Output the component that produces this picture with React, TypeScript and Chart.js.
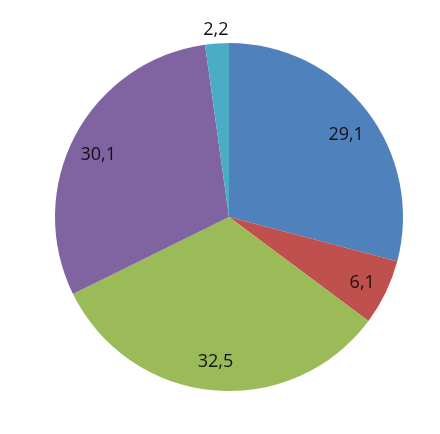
import { useEffect, useRef } from "react";
import { Chart, registerables, Plugin } from "chart.js";

Chart.register(...registerables);

const categories = ["A", "B", "C", "D", "E"];
const values = [29.1, 6.1, 32.5, 30.1, 2.2];
const colors = ["#4F81BD", "#C0504D", "#9BBB59", "#8064A2", "#4BACC6"];
// values below this share go outside the pie
const outsideLimit = 5;

const labelPlugin: Plugin<"pie"> = {
  id: "sliceLabels",
  afterDatasetsDraw(chart) {
    const ctx = chart.ctx;
    const meta = chart.getDatasetMeta(0);
    ctx.save();
    ctx.font = "18px 'Open Sans'";
    ctx.fillStyle = "#111";
    ctx.textAlign = "center";
    ctx.textBaseline = "middle";
    meta.data.forEach((arc: any, i) => {
      const { x, y, startAngle, endAngle, outerRadius } = arc.getProps(
        ["x", "y", "startAngle", "endAngle", "outerRadius"],
        true
      );
      const mid = (startAngle + endAngle) / 2;
      const outside = values[i] < outsideLimit;
      const r = outside ? outerRadius + 16 : outerRadius * 0.85;
      // label boxes sit a little lower in the upper half, like Excel's best fit
      const dy = outside ? 2 : 4 - 6 * Math.sin(mid);
      const text = values[i].toFixed(1).replace(".", ",");
      ctx.fillText(text, x + Math.cos(mid) * r, y + Math.sin(mid) * r + dy);
    });
    ctx.restore();
  },
};

export default function App() {
  const chartRef = useRef<HTMLCanvasElement>(null);
  const chartInstance = useRef<Chart | null>(null);

  useEffect(() => {
    if (!chartRef.current) return;
    if (chartInstance.current) chartInstance.current.destroy();

    const ctx = chartRef.current.getContext("2d");
    if (!ctx) return;

    chartInstance.current = new Chart(ctx, {
      type: "pie",
      data: {
        labels: categories,
        datasets: [
          {
            data: values,
            backgroundColor: colors,
            borderWidth: 0,
          },
        ],
      },
      options: {
        responsive: false,
        animation: false,
        layout: {
          padding: { left: 55, right: 37, top: 43, bottom: 43 },
        },
        plugins: {
          legend: { display: false },
          tooltip: { enabled: false },
        },
      },
      plugins: [labelPlugin],
    });

    return () => {
      if (chartInstance.current) {
        chartInstance.current.destroy();
        chartInstance.current = null;
      }
    };
  }, []);

  return (
    <div style={{ position: "fixed", left: 0, top: 0, width: 440, height: 434, background: "#fff" }}>
      <canvas ref={chartRef} width={440} height={434} />
    </div>
  );
}
